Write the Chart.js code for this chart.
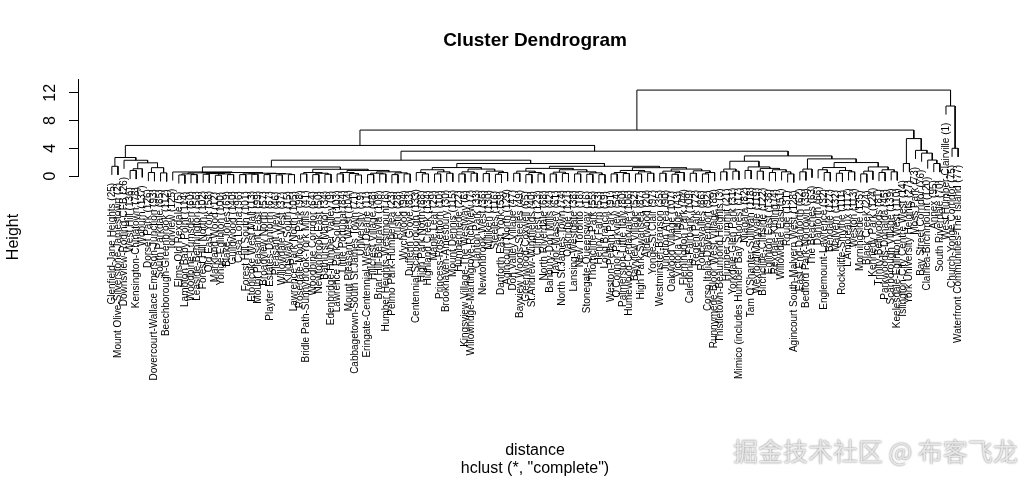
<!DOCTYPE html>
<html>
<head>
<meta charset="utf-8">
<script src="https://cdn.jsdelivr.net/npm/chart.js@4/dist/chart.umd.min.js"></script>
<style>
  html, body { margin: 0; padding: 0; background: #fff; }
  canvas { display: block; }
</style>
</head>
<body>
<canvas id="dendro" width="1034" height="480"></canvas>
<script>
// neighbourhood names, index = neighbourhood id
var hoodNames = [null,
  "West Humber-Clairville", "Mount Olive-Silverstone-Jamestown", "Thistletown-Beaumond Heights",
  "Rexdale-Kipling", "Elms-Old Rexdale", "Kingsview Village-The Westway",
  "Willowridge-Martingrove-Richview", "Humber Heights-Westmount", "Edenbridge-Humber Valley",
  "Princess-Rosethorn", "Eringate-Centennial-West Deane", "Markland Wood",
  "Etobicoke West Mall", "Islington-City Centre West", "Kingsway South",
  "Stonegate-Queensway", "Mimico (includes Humber Bay Shores)", "New Toronto",
  "Long Branch", "Alderwood", "Humber Summit", "Humbermede", "Pelmo Park-Humberlea",
  "Black Creek", "Glenfield-Jane Heights", "Downsview-Roding-CFB", "York University Heights",
  "Rustic", "Maple Leaf", "Brookhaven-Amesbury", "Yorkdale-Glen Park", "Englemount-Lawrence",
  "Clanton Park", "Bathurst Manor", "Westminster-Branson", "Newtonbrook West",
  "Willowdale West", "Lansing-Westgate", "Bedford Park-Nortown", "St.Andrew-Windfields",
  "Bridle Path-Sunnybrook-York Mills", "Banbury-Don Mills", "Victoria Village",
  "Flemingdon Park", "Parkwoods-Donalda", "Pleasant View", "Don Valley Village",
  "Hillcrest Village", "Bayview Woods-Steeles", "Newtonbrook East", "Willowdale East",
  "Bayview Village", "Henry Farm", "O'Connor-Parkview", "Thorncliffe Park",
  "Leaside-Bennington", "Broadview North", "Old East York", "Danforth East York",
  "Woodbine-Lumsden", "Taylor-Massey", "East End-Danforth", "The Beaches",
  "Woodbine Corridor", "Greenwood-Coxwell", "Danforth", "Playter Estates-Danforth",
  "North Riverdale", "Blake-Jones", "South Riverdale", "Cabbagetown-South St.James Town",
  "Regent Park", "Moss Park", "North St.James Town", "Church-Yonge Corridor",
  "Bay Street Corridor", "Waterfront Communities-The Island", "Kensington-Chinatown",
  "University", "Palmerston-Little Italy", "Trinity-Bellwoods", "Niagara", "Dufferin Grove",
  "Little Portugal", "South Parkdale", "Roncesvalles", "High Park-Swansea", "High Park North",
  "Runnymede-Bloor West Village", "Junction Area", "Weston-Pellam Park",
  "Corso Italia-Davenport", "Dovercourt-Wallace Emerson-Junction", "Wychwood", "Annex",
  "Casa Loma", "Yonge-St.Clair", "Rosedale-Moore Park", "Mount Pleasant East",
  "Yonge-Eglinton", "Forest Hill South", "Forest Hill North", "Lawrence Park South",
  "Mount Pleasant West", "Lawrence Park North", "Humewood-Cedarvale", "Oakwood Village",
  "Briar Hill-Belgravia", "Caledonia-Fairbank", "Keelesdale-Eglinton West",
  "Rockcliffe-Smythe", "Beechborough-Greenbrook", "Weston", "Lambton Baby Point",
  "Mount Dennis", "Steeles", "L'Amoreaux", "Tam O'Shanter-Sullivan", "Wexford/Maryvale",
  "Clairlea-Birchmount", "Oakridge", "Birchcliffe-Cliffside", "Cliffcrest", "Kennedy Park",
  "Ionview", "Dorset Park", "Bendale", "Agincourt South-Malvern West", "Agincourt North",
  "Milliken", "Rouge", "Malvern", "Centennial Scarborough", "Highland Creek", "Morningside",
  "West Hill", "Woburn", "Eglinton East", "Scarborough Village", "Guildwood"];

// merge tree: [height, left, right], a plain number is a neighbourhood id
var leftArm = [2.67, [1.4, 25, 2],
  [2.27, 26, [1.9, [1.05, [0.8, 136, 78], 137], [1.2, [0.5, 126, 93], [0.45, 85, 112]]]]];

var middleLow = [1.3,
  [0.58, 125, [0.5,
    [0.45, [0.3, [0.15, 5, 114], [0.2, 60, 56]], [0.35, [0.25, 102, 58], [0.3, [0.1, 12, 100], [0.2, 69, 140]]]],
    [0.4, [0.3, [0.2, 96, 101], [0.25, 13, 99]], [0.35, [0.2, 57, 67], [0.3, [0.15, 46, 37], [0.2, 15, 105]]]]]],
  [0.97,
    [0.5, [0.3, 98, 41], [0.4, [0.2, 64, 50], [0.25, 34, 9]]],
    [0.8, [0.5, [0.3, 103, 84], [0.35, 104, [0.15, 71, 79]]],
          [0.6, [0.4, [0.2, 11, 48], [0.3, 108, 8]], [0.45, [0.2, 23, 28], [0.3, 94, 83]]]]]];

var middleHigh = [1.8,
  [1.22, [0.9, [0.5, 133, [0.3, 88, 134]], [0.6, [0.3, 29, 10], [0.4, 30, 115]]],
         [1.0, [0.6, [0.3, 22, 6], [0.4, 7, 33]], [0.7, [0.35, 36, 130], [0.5, [0.25, 116, 59], 129]]]],
  [1.4,
    [1.1, [0.7, [0.4, 47, 49], [0.5, [0.2, 65, 40], [0.3, 123, 68]]],
          [0.9, [0.55, [0.3, 42, 61], [0.35, 74, 121]], [0.6, [0.3, 38, 18], [0.45, [0.25, 16, 55], [0.2, 53, 19]]]]],
    [1.2, [0.8, [0.5, [0.3, 91, 54], [0.35, 80, 106]], [0.6, [0.3, 52, 87], [0.4, 20, 97]]],
          [1.0, [0.7, [0.4, 35, 90], [0.5, [0.25, 107, 43], 44]], [0.75, [0.4, 109, 72], [0.5, [0.3, 86, 92], 89]]]]]];

var eastSide = [2.9,
  [2.13, [1.0, [0.6, 3, 21], [0.7, 31, 17]],
         [1.31, [0.8, 82, 118], [1.1, [0.7, 119, 122], [0.9, [0.5, 138, 4], [0.6, 51, [0.3, 131, 128]]]]]],
  [2.47, [1.0, [0.6, 62, 39], 63],
         [1.94, [1.22, [0.9, 66, [0.5, 32, 127]], [0.8, [0.4, 132, 111], [0.6, 117, 113]]],
                [1.31, [0.7, [0.3, 135, 24], 124], [0.9, [0.5, 81, 45], [0.6, 139, 110]]]]]];

var downtown = [5.4, [1.8, 14, 27], [3.7, 73, [3.3, 76, [2.3, 120, [1.8, 95, 70]]]]];
var coreArm = [10.1, 1, [4.0, 75, 77]];

var mergeTree = [12.4, [6.63, [4.41, leftArm, [3.58, [2.28, middleLow, middleHigh], eastSide]], downtown], coreArm];

var heightTicks = [0, 2, 4, 6, 8, 10, 12, 14];
var heightLabels = [0, 4, 8, 12];
var hang = 1.24;   // leaves hang this far below their merge

// walk the tree: leaf order, node positions and the segments to draw
var leafOrder = [];
var segments = [];
var leafEnds = [];

function place(node) {
  if (typeof node === "number") {
    leafOrder.push(node);
    return { x: leafOrder.length, h: null };
  }
  var a = place(node[1]);
  var b = place(node[2]);
  var h = node[0];
  var ya = a.h === null ? h - hang : a.h;
  var yb = b.h === null ? h - hang : b.h;
  if (a.h === null) leafEnds.push({ x: a.x, y: ya });
  if (b.h === null) leafEnds.push({ x: b.x, y: yb });
  segments.push({ x: a.x, y: ya }, { x: a.x, y: h }, { x: b.x, y: h }, { x: b.x, y: yb }, { x: a.x, y: null });
  return { x: (a.x + b.x) / 2, h: h };
}
place(mergeTree);

var nLeaves = leafOrder.length;
var pad = 0.04 * (nLeaves - 1);

var textPlugin = {
  id: "rText",
  afterDraw: function (chart) {
    var ctx = chart.ctx;
    var xs = chart.scales.x, ys = chart.scales.y;
    var area = chart.chartArea;
    var mid = (area.left + area.right) / 2;
    ctx.save();
    ctx.fillStyle = "#000";

    // leaf labels hanging below each leaf
    ctx.font = "10px 'Liberation Sans', Arial, sans-serif";
    ctx.textAlign = "right";
    ctx.textBaseline = "middle";
    leafEnds.forEach(function (p) {
      var id = leafOrder[p.x - 1];
      ctx.save();
      ctx.translate(xs.getPixelForValue(p.x), ys.getPixelForValue(p.y) + 8);
      ctx.rotate(-Math.PI / 2);
      ctx.fillText(hoodNames[id] + " (" + id + ")", 0, 0);
      ctx.restore();
    });

    // y tick labels, turned like R does
    ctx.font = "16px 'Liberation Sans', Arial, sans-serif";
    ctx.textAlign = "center";
    heightLabels.forEach(function (v) {
      ctx.save();
      ctx.translate(51, ys.getPixelForValue(v));
      ctx.rotate(-Math.PI / 2);
      ctx.fillText(String(v), 0, 0);
      ctx.restore();
    });

    ctx.save();
    ctx.translate(14, 237);
    ctx.rotate(-Math.PI / 2);
    ctx.fillText("Height", 0, 0);
    ctx.restore();

    ctx.fillText("distance", mid, 451);
    ctx.fillText('hclust (*, "complete")', mid, 469);

    ctx.font = "bold 19px 'Liberation Sans', Arial, sans-serif";
    ctx.fillText("Cluster Dendrogram", mid, 41);

    // watermark
    ctx.font = "25px 'Noto Sans CJK SC', sans-serif";
    ctx.textAlign = "left";
    ctx.shadowColor = "rgba(0,0,0,0.6)";
    ctx.shadowBlur = 2;
    ctx.fillStyle = "rgba(235,235,235,0.95)";
    ctx.fillText("掘金技术社区 @ 布客飞龙", 733, 451);
    ctx.restore();
  }
};

new Chart(document.getElementById("dendro"), {
  type: "scatter",
  data: {
    datasets: [{
      data: segments,
      showLine: true,
      spanGaps: false,
      borderColor: "#000",
      borderWidth: 1,
      pointRadius: 0,
      pointHoverRadius: 0,
      clip: false
    }]
  },
  options: {
    responsive: false,
    animation: false,
    events: [],
    layout: { padding: { left: 0, right: 42, top: 79, bottom: 304 } },
    plugins: { legend: { display: false }, tooltip: { enabled: false } },
    scales: {
      x: {
        type: "linear",
        display: false,
        min: 1 - pad,
        max: nLeaves + pad
      },
      y: {
        type: "linear",
        min: 0,
        max: 14,
        afterFit: function (scale) { scale.width = 78; },
        afterBuildTicks: function (scale) {
          scale.ticks = heightTicks.map(function (v) { return { value: v }; });
        },
        ticks: { color: "rgba(0,0,0,0)", font: { size: 10 } },
        grid: { drawOnChartArea: false, drawTicks: true, tickLength: 9, color: "#000" },
        border: { display: true, color: "#000", width: 1 }
      }
    }
  },
  plugins: [textPlugin]
});
</script>
</body>
</html>
